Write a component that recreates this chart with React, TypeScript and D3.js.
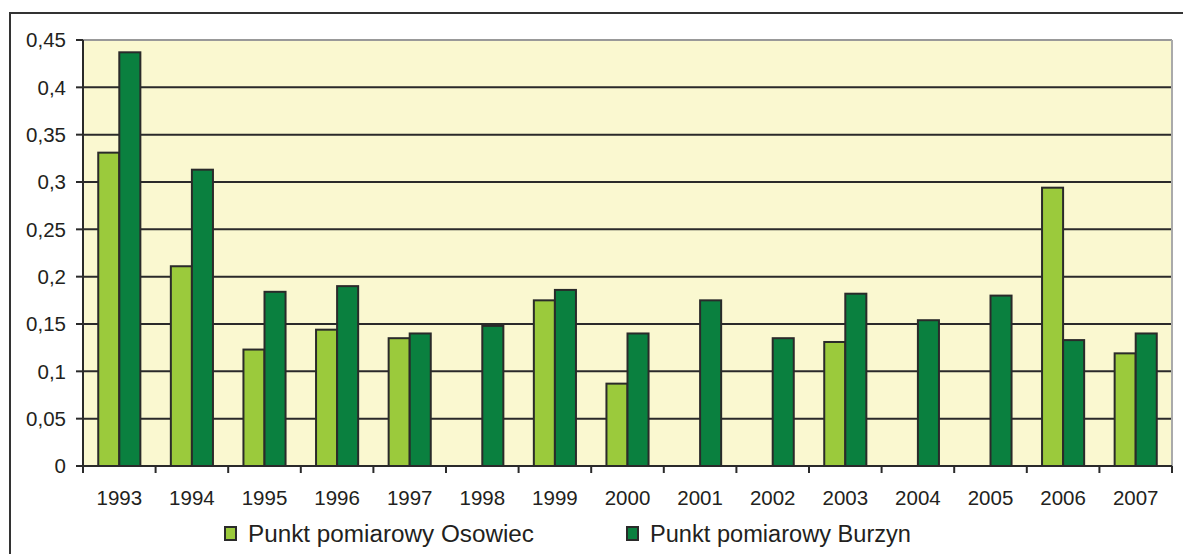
import React from "react";
import * as d3 from "d3";

const years = ["1993","1994","1995","1996","1997","1998","1999","2000","2001","2002","2003","2004","2005","2006","2007"];
const osowiec: (number | null)[] = [0.331,0.211,0.123,0.144,0.135,null,0.175,0.087,null,null,0.131,null,null,0.294,0.119];
const burzyn: (number | null)[] = [0.437,0.313,0.184,0.19,0.14,0.148,0.186,0.14,0.175,0.135,0.182,0.154,0.18,0.133,0.14];
const yTicks = [0,0.05,0.1,0.15,0.2,0.25,0.3,0.35,0.4,0.45];
const seriesNames = ["Punkt pomiarowy Osowiec","Punkt pomiarowy Burzyn"];
const colors = ["#9BCA3C","#0A803F"];

export default function App() {
  const W = 1183, H = 554;
  const left = 83, right = 1172, top = 40, bottom = 466;
  const x = d3.scaleBand<string>().domain(years).range([left, right]).paddingInner(0.42).paddingOuter(0.21);
  const xs = d3.scaleBand<number>().domain([0,1]).range([0, x.bandwidth()]);
  const y = d3.scaleLinear().domain([0,0.45]).range([bottom, top]);
  const fmt = (v: number) => String(+v.toFixed(2)).replace(".", ",");
  const step = x.step();
  const series = [osowiec, burzyn];
  const font = "'Liberation Sans', Arial, sans-serif";
  const legendX = [225, 627];
  const legendLen = [286, 261];
  return (
    <svg width={W} height={H} style={{position:"absolute", left:0, top:0}} fontFamily={font}>
      <rect x={0} y={0} width={W} height={H} fill="#fff" />
      <rect x={10} y={13} width={1190} height={600} fill="none" stroke="#333" strokeWidth={2} />
      <rect x={left} y={top} width={right-left} height={bottom-top} fill="#FAF8D0" />
      {yTicks.filter(t => t > 0 && t < 0.45).map(t => (
        <line key={t} x1={left} x2={right} y1={y(t)} y2={y(t)} stroke="#2a2a2a" strokeWidth={2} />
      ))}
      <line x1={left} x2={right} y1={top} y2={top} stroke="#999" strokeWidth={2} />
      <line x1={right} x2={right} y1={top} y2={bottom} stroke="#aaa" strokeWidth={2} />
      {series.map((s, si) => s.map((v, i) => v == null ? null : (
        <rect key={si+"-"+i} x={(x(years[i]) as number) + (xs(si) as number)} y={y(v)} width={xs.bandwidth()} height={y(0)-y(v)}
          fill={colors[si]} stroke="#2a2a2a" strokeWidth={2} />
      )))}
      <line x1={left} x2={left} y1={top} y2={bottom+1} stroke="#2a2a2a" strokeWidth={2} />
      <line x1={left-1} x2={right} y1={bottom} y2={bottom} stroke="#2a2a2a" strokeWidth={2} />
      {yTicks.map(t => (
        <g key={t}>
          <line x1={left-7} x2={left} y1={y(t)} y2={y(t)} stroke="#2a2a2a" strokeWidth={2} />
          <text x={left-17} y={y(t)} dy="0.36em" textAnchor="end" fontSize={20.5} fill="#231f20">{fmt(t)}</text>
        </g>
      ))}
      {years.map((yr, i) => (
        <g key={yr}>
          <line x1={left + i*step} x2={left + i*step} y1={bottom} y2={bottom+7} stroke="#2a2a2a" strokeWidth={2} />
          <text x={(x(yr) as number) + x.bandwidth()/2} y={505} textAnchor="middle" fontSize={20.5} fill="#231f20">{yr}</text>
        </g>
      ))}
      <line x1={right} x2={right} y1={bottom} y2={bottom+7} stroke="#2a2a2a" strokeWidth={2} />
      {seriesNames.map((n, i) => (
        <g key={n}>
          <rect x={legendX[i]} y={527} width={11} height={13} fill={colors[i]} stroke="#2a2a2a" strokeWidth={2} />
          <text x={legendX[i]+23} y={542} fontSize={23.5} textLength={legendLen[i]} lengthAdjust="spacingAndGlyphs" fill="#231f20">{n}</text>
        </g>
      ))}
    </svg>
  );
}
